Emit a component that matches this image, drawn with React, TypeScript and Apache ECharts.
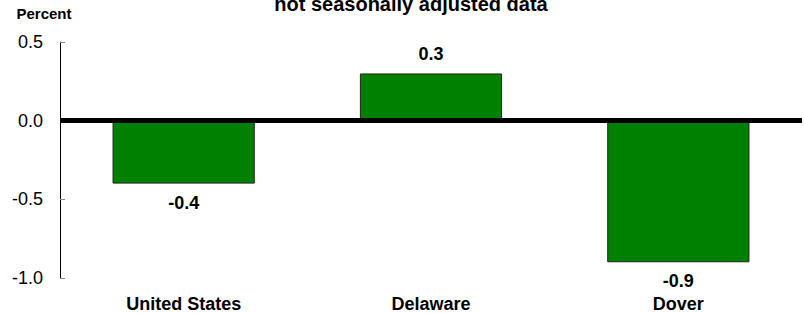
import React, { useEffect, useRef } from "react";
import * as echarts from "echarts";

const categories = ["United States", "Delaware", "Dover"];
const values = [-0.4, 0.3, -0.9];
const titleText = "not seasonally adjusted data";
const yAxisName = "Percent";

const FONT = "Liberation Sans, Arial, sans-serif";

export default function App() {
  const ref = useRef<HTMLDivElement>(null);
  useEffect(() => {
    document.body.style.margin = "0";
    if (!ref.current) return;
    const chart = echarts.init(ref.current, null, { renderer: "svg" });
    chart.setOption({
      animation: false,
      graphic: [
        {
          type: "text",
          x: 411,
          y: -6,
          style: {
            text: titleText,
            fontFamily: FONT,
            fontWeight: "bold",
            fontSize: 20,
            fill: "#000",
            align: "center",
            verticalAlign: "top",
          },
        },
        {
          type: "text",
          x: 44,
          y: 13,
          style: {
            text: yAxisName,
            fontFamily: FONT,
            fontWeight: "bold",
            fontSize: 15,
            fill: "#000",
            align: "center",
            verticalAlign: "middle",
          },
        },
      ],
      grid: { left: 60, right: 2, top: 42, bottom: 34, containLabel: false },
      xAxis: {
        type: "category",
        data: categories,
        position: "bottom",
        axisLine: { show: false },
        axisTick: { show: false },
        axisLabel: {
          fontFamily: FONT,
          fontWeight: "bold",
          fontSize: 18,
          color: "#000",
          margin: 17,
        },
      },
      yAxis: {
        type: "value",
        min: -1.0,
        max: 0.5,
        interval: 0.5,
        axisLine: { show: true, onZero: false, lineStyle: { color: "#000", width: 1 } },
        axisTick: { show: true, inside: true, length: 5, lineStyle: { color: "#888" } },
        splitLine: { show: false },
        axisLabel: {
          fontFamily: FONT,
          fontSize: 18,
          color: "#000",
          margin: 17,
          formatter: (v: number) => v.toFixed(1),
        },
      },
      series: [
        {
          type: "bar",
          data: values,
          barWidth: "57.5%",
          itemStyle: { color: "#008000", borderColor: "#222", borderWidth: 1 },
          label: {
            show: true,
            position: "outside",
            formatter: (p: any) => p.value.toFixed(1),
            fontFamily: FONT,
            fontWeight: "bold",
            fontSize: 18,
            color: "#000",
            distance: 10,
          },
          markLine: {
            silent: true,
            symbol: "none",
            label: { show: false },
            lineStyle: { color: "#000", width: 5, type: "solid" },
            data: [{ yAxis: 0 }],
          },
        },
      ],
    });
    return () => chart.dispose();
  }, []);
  return <div ref={ref} style={{ width: 804, height: 313 }} />;
}
